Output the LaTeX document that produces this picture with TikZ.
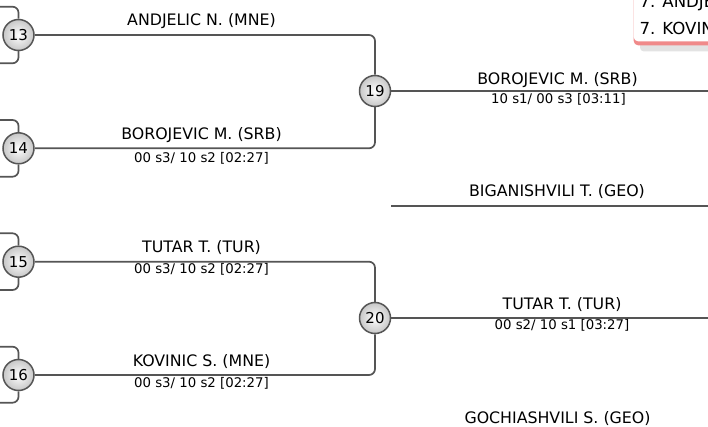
\documentclass[tikz,border=0pt]{standalone}
\usepackage{fontspec}
\setmainfont{DejaVu Sans}
\definecolor{linec}{HTML}{555555}
\definecolor{redl}{HTML}{F08A8A}
\definecolor{shadowc}{HTML}{E3E3E3}
\tikzset{
  conn/.style={draw=linec, line width=1.7pt, rounded corners=6pt},
  num/.style={circle, draw=linec, line width=1.5pt, inner color=white, outer color=black!22,
    minimum size=31pt, inner sep=0pt, font=\fontsize{15}{15}\selectfont},
  pname/.style={anchor=base, font=\fontsize{15.8}{16}\selectfont},
  pscore/.style={anchor=base, font=\fontsize{13.3}{14}\selectfont},
  legend/.style={anchor=base west, font=\fontsize{16.6}{17}\selectfont},
}
\begin{document}
\begin{tikzpicture}[x=1pt,y=-1pt]
\useasboundingbox (0,0) rectangle (708,427);
\clip (0,0) rectangle (708,427);
\fill[white] (0,0) rectangle (708,427);

% circles
\node[num] (c13) at (18.5,35) {13};
\node[num] (c14) at (18.5,148.3) {14};
\node[num] (c15) at (18.5,261.7) {15};
\node[num] (c16) at (18.5,375) {16};
\node[num] (c19) at (375,91) {19};
\node[num] (c20) at (375,318) {20};

% free ends
\coordinate (t13) at (-10,6.7);
\coordinate (b13) at (-10,63.3);
\coordinate (t14) at (-10,120);
\coordinate (b14) at (-10,176.7);
\coordinate (t15) at (-10,233.3);
\coordinate (b15) at (-10,290);
\coordinate (t16) at (-10,346.7);
\coordinate (b16) at (-10,402.7);
\coordinate (e19) at (720,91);
\coordinate (e20) at (720,318);
\coordinate (bg1) at (391,205.7);
\coordinate (bg2) at (720,205.7);

% left brackets
\draw[conn] (c13.north) |- (t13);
\draw[conn] (c13.south) |- (b13);
\draw[conn] (c14.north) |- (t14);
\draw[conn] (c14.south) |- (b14);
\draw[conn] (c15.north) |- (t15);
\draw[conn] (c15.south) |- (b15);
\draw[conn] (c16.north) |- (t16);
\draw[conn] (c16.south) |- (b16);

% bracket joins
\draw[conn] (c13.east) -| (c19.north);
\draw[conn] (c14.east) -| (c19.south);
\draw[conn] (c15.east) -| (c20.north);
\draw[conn] (c16.east) -| (c20.south);
\draw[conn] (c19.east) -- (e19);
\draw[conn] (c20.east) -- (e20);
\draw[conn] (bg1) -- (bg2);

% names and scores
\node[pname] (n13) at (201.5,26) {ANDJELIC N. (MNE)};
\node[pname] (n14) at (201.5,139.8) {BOROJEVIC M. (SRB)};
\node[pscore] (s14) at (201.5,162.3) {00 s3/ 10 s2 [02:27]};
\node[pname] (n15) at (201.5,252.7) {TUTAR T. (TUR)};
\node[pscore] (s15) at (201.5,273.8) {00 s3/ 10 s2 [02:27]};
\node[pname] (n16) at (201.5,366) {KOVINIC S. (MNE)};
\node[pscore] (s16) at (201.5,387.5) {00 s3/ 10 s2 [02:27]};

\node[pname] (n19) at (557.5,85) {BOROJEVIC M. (SRB)};
\node[pscore] (s19) at (558.5,103.3) {10 s1/ 00 s3 [03:11]};
\node[pname] (nb) at (557,197) {BIGANISHVILI T. (GEO)};
\node[pname] (n20) at (562,309.3) {TUTAR T. (TUR)};
\node[pscore] (s20) at (562,329.3) {00 s2/ 10 s1 [03:27]};
\node[pname] (ng) at (557.5,423.3) {GOCHIASHVILI S. (GEO)};

% top-right legend box
\fill[shadowc, rounded corners=4pt] (640,40) rectangle (730,51.5);
\fill[redl, rounded corners=5pt] (633.5,-10) rectangle (730,45.5);
\fill[white, rounded corners=5pt] (633.5,-10) rectangle (730,41.5);
\node[legend] (r1) at (636,8) {7. ANDJELIC N. (MNE)};
\node[legend] (r2) at (636,35) {7. KOVINIC S. (MNE)};
\end{tikzpicture}
\end{document}
